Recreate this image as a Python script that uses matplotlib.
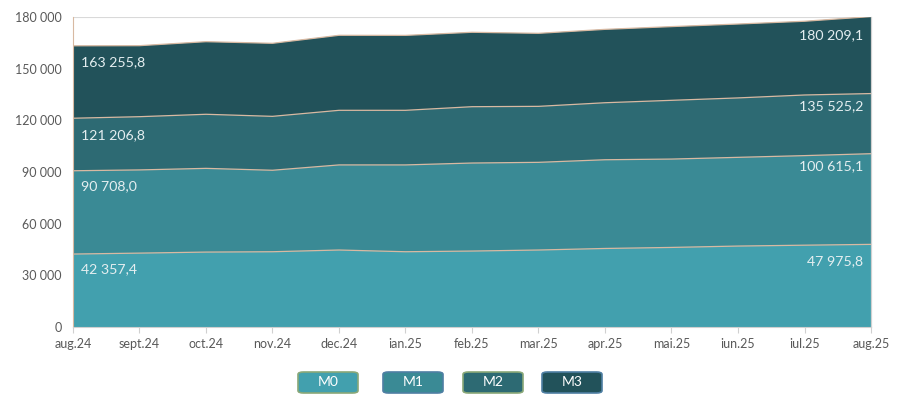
import matplotlib
matplotlib.use('Agg')
import matplotlib.pyplot as plt
import numpy as np
from matplotlib.patches import FancyBboxPatch
from matplotlib.ticker import FuncFormatter

plt.rcParams['font.family'] = ['Lato', 'DejaVu Sans']

months = ['aug.24', 'sept.24', 'oct.24', 'nov.24', 'dec.24', 'ian.25', 'feb.25',
          'mar.25', 'apr.25', 'mai.25', 'iun.25', 'iul.25', 'aug.25']

# monetary aggregates (levels, not stacked)
m0 = [42357.4, 42900, 43500, 43700, 44700, 43700, 44100, 44700, 45600, 46200, 47000, 47500, 47975.8]
m1 = [90708.0, 91200, 92100, 91000, 94100, 94100, 95200, 95600, 97100, 97500, 98500, 99500, 100615.1]
m2 = [121206.8, 122100, 123500, 122300, 125800, 125800, 127900, 128100, 130200, 131600, 133000, 134700, 135525.2]
m3 = [163255.8, 163330, 165650, 164700, 169350, 169300, 171100, 170500, 172800, 174400, 175900, 177500, 180209.1]

names = ['M0', 'M1', 'M2', 'M3']
colors = ['#42a0ae', '#3a8a95', '#2d6a73', '#22525a']
legend_edges = ['#8aa878', '#4f7fa3', '#8aa878', '#4f7fa3']
series = [m0, m1, m2, m3]

fig = plt.figure(figsize=(9.11, 3.97), dpi=100)
ax = fig.add_axes([0.0801, 0.1763, 0.876, 0.781])

x = np.arange(len(months))
# draw largest first so smaller aggregates sit on top
for vals, col in reversed(list(zip(series, colors))):
    ax.fill_between(x, 0, vals, facecolor=col, edgecolor='none', zorder=2)
    ax.plot(x, vals, color='#d8b9a2', lw=0.9, zorder=3)

def fmt(v):
    s = '{:,.1f}'.format(v)
    return s.replace(',', ' ').replace('.', ',')

lab_col = '#e4eef0'
left_dy = [-15, -15, -17, -16]
right_dy = [-17, -12, -13, -19]
for vals, ldy, rdy in zip(series, left_dy, right_dy):
    ax.annotate(fmt(vals[0]), (x[0], vals[0]), xytext=(8, ldy), textcoords='offset pixels',
                ha='left', va='center', fontsize=10.2, color=lab_col, zorder=5)
    ax.annotate(fmt(vals[-1]), (x[-1], vals[-1]), xytext=(-8, rdy), textcoords='offset pixels',
                ha='right', va='center', fontsize=10.2, color=lab_col, zorder=5)

ax.set_xlim(0, len(months) - 1)
ax.set_ylim(0, 180000)
ax.set_yticks(np.arange(0, 180001, 30000))
ax.yaxis.set_major_formatter(FuncFormatter(lambda v, p: '{:,.0f}'.format(v).replace(',', ' ')))
ax.set_xticks(x)
ax.set_xticklabels(months)
ax.tick_params(axis='y', length=0, labelsize=9, labelcolor='#595959', pad=8)
ax.tick_params(axis='x', length=4, color='#d0d0d0', labelsize=9, labelcolor='#595959', pad=4)
ax.grid(axis='y', color='#d9d9d9', lw=0.8, zorder=0)
ax.set_axisbelow(True)
for s in ['top', 'right']:
    ax.spines[s].set_visible(False)
ax.spines['left'].set_color('#d8b9a2')
ax.spines['bottom'].set_color('#d0d0d0')
ax.plot([x[-1], x[-1]], [0, m3[-1]], color='#d0d0d0', lw=0.9, zorder=4, clip_on=False)

# legend boxes
box_x = [298, 383, 463, 542]
box_w = 60
for bx, name, col, ec in zip(box_x, names, colors, legend_edges):
    x0 = bx / 911
    y0 = 1 - 393 / 397
    w = box_w / 911
    h = 21 / 397
    p = FancyBboxPatch((x0, y0), w, h, boxstyle='round,pad=0,rounding_size=0.006',
                       transform=fig.transFigure, facecolor=col, edgecolor=ec, lw=1.2)
    fig.patches.append(p)
    fig.text(x0 + w / 2, y0 + h / 2, name, ha='center', va='center', color='white', fontsize=10)

fig.savefig('out.png', dpi=100)
